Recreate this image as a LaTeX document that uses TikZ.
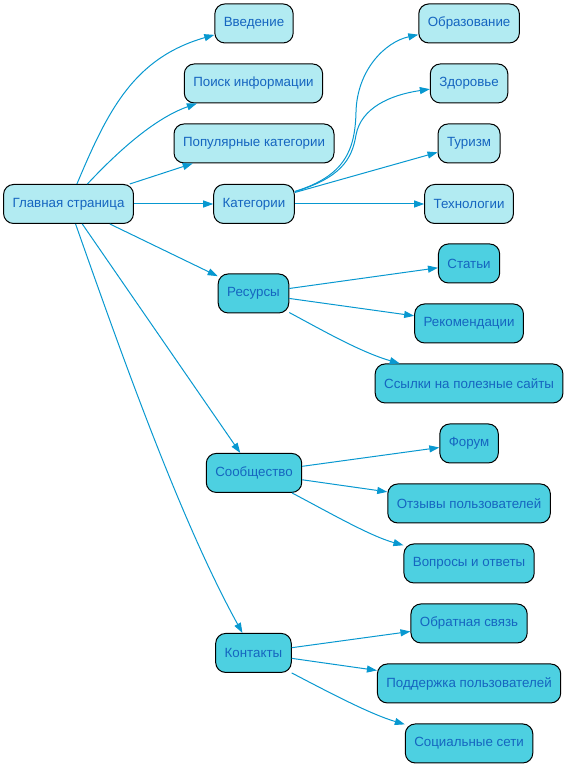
\documentclass[tikz,border=0pt]{standalone}
\usepackage{fontspec}
\setmainfont{Liberation Sans}
\usetikzlibrary{arrows.meta}
\definecolor{lightcyan}{HTML}{B2EBF2}
\definecolor{darkcyan}{HTML}{4DD0E1}
\definecolor{textblue}{HTML}{1565C0}
\definecolor{edgeblue}{HTML}{0898D0}
\tikzset{
  page/.style={draw=black,line width=0.75bp,rounded corners=7.5bp,minimum height=29.25bp,
    inner xsep=6.75bp,text=textblue,font=\fontsize{10bp}{12bp}\selectfont},
  toppage/.style={page,fill=lightcyan},
  subpage/.style={page,fill=darkcyan},
  link/.style={edgeblue,line width=0.75bp,->},
}
\begin{document}
\begin{tikzpicture}[>={Triangle[length=7.5bp,width=5.25bp]},line join=bevel,]
\useasboundingbox (0bp,0bp) rectangle (426bp,576bp);
%%
\node (node_main) at (51.4bp,423.0bp) [toppage] {Главная страница};
  \node (node_intro) at (190.5bp,558.4bp) [toppage] {Введение};
  \node (node_search) at (190.1bp,513.4bp) [toppage] {Поиск информации};
  \node (node_popular) at (190.5bp,468.4bp) [toppage] {Популярные категории};
  \node (node_cat) at (190.5bp,423.0bp) [toppage] {Категории};
  \node (node_res) at (190.1bp,355.9bp) [subpage] {Ресурсы};
  \node (node_comm) at (190.5bp,221.3bp) [subpage] {Сообщество};
  \node (node_cont) at (190.1bp,86.3bp) [subpage] {Контакты};
%
  \node (node_edu) at (351.8bp,558.4bp) [toppage] {Образование};
  \node (node_health) at (351.8bp,513.4bp) [toppage] {Здоровье};
  \node (node_tour) at (351.8bp,468.4bp) [toppage] {Туризм};
  \node (node_tech) at (351.8bp,423.0bp) [toppage] {Технологии};
  \node (node_art) at (351.8bp,378.4bp) [subpage] {Статьи};
  \node (node_rec) at (351.8bp,333.4bp) [subpage] {Рекомендации};
  \node (node_links) at (351.8bp,288.4bp) [subpage] {Ссылки на полезные сайты};
  \node (node_forum) at (351.8bp,243.4bp) [subpage] {Форум};
  \node (node_reviews) at (351.8bp,198.4bp) [subpage] {Отзывы пользователей};
  \node (node_qa) at (351.8bp,153.4bp) [subpage] {Вопросы и ответы};
  \node (node_feedback) at (351.8bp,108.4bp) [subpage] {Обратная связь};
  \node (node_support) at (351.8bp,63.4bp) [subpage] {Поддержка пользователей};
  \node (node_social) at (351.8bp,18.4bp) [subpage] {Социальные сети};
%
  \draw [link] (node_main) .. controls (81.0bp,493.5bp) and (100.5bp,532.5bp) .. (node_intro);
  \draw [link] (node_main) .. controls (82.5bp,456.0bp) and (112.5bp,486.0bp) .. (node_search);
  \draw [link] (node_main) -- (node_popular);
  \draw [link] (node_main) -- (node_cat);
  \draw [link] (node_main) -- (node_res);
  \draw [link] (node_main) -- (node_comm);
  \draw [link] (node_main) .. controls (90.0bp,313.5bp) and (135.0bp,186.0bp) .. (node_cont);
%
  \draw [link] (node_cat) .. controls (258.8bp,444.0bp) and (266.3bp,463.5bp) .. (267.0bp,492.0bp)
    .. controls (267.8bp,523.5bp) and (288.8bp,544.5bp) .. (node_edu);
  \draw [link] (node_cat) .. controls (255.0bp,442.5bp) and (264.0bp,456.0bp) .. (267.0bp,474.8bp)
    .. controls (270.8bp,495.0bp) and (292.5bp,504.8bp) .. (node_health);
  \draw [link] (node_cat) -- (node_tour);
  \draw [link] (node_cat) -- (node_tech);
%
  \draw [link] (node_res) -- (node_art);
  \draw [link] (node_res) -- (node_rec);
  \draw [link] (node_res) .. controls (240.0bp,329.3bp) and (270.0bp,312.0bp) .. (node_links);
  \draw [link] (node_comm) -- (node_forum);
  \draw [link] (node_comm) -- (node_reviews);
  \draw [link] (node_comm) .. controls (247.5bp,191.3bp) and (277.5bp,174.0bp) .. (node_qa);
  \draw [link] (node_cont) -- (node_feedback);
  \draw [link] (node_cont) -- (node_support);
  \draw [link] (node_cont) .. controls (247.5bp,56.3bp) and (277.5bp,40.5bp) .. (node_social);
%
\end{tikzpicture}
\end{document}
